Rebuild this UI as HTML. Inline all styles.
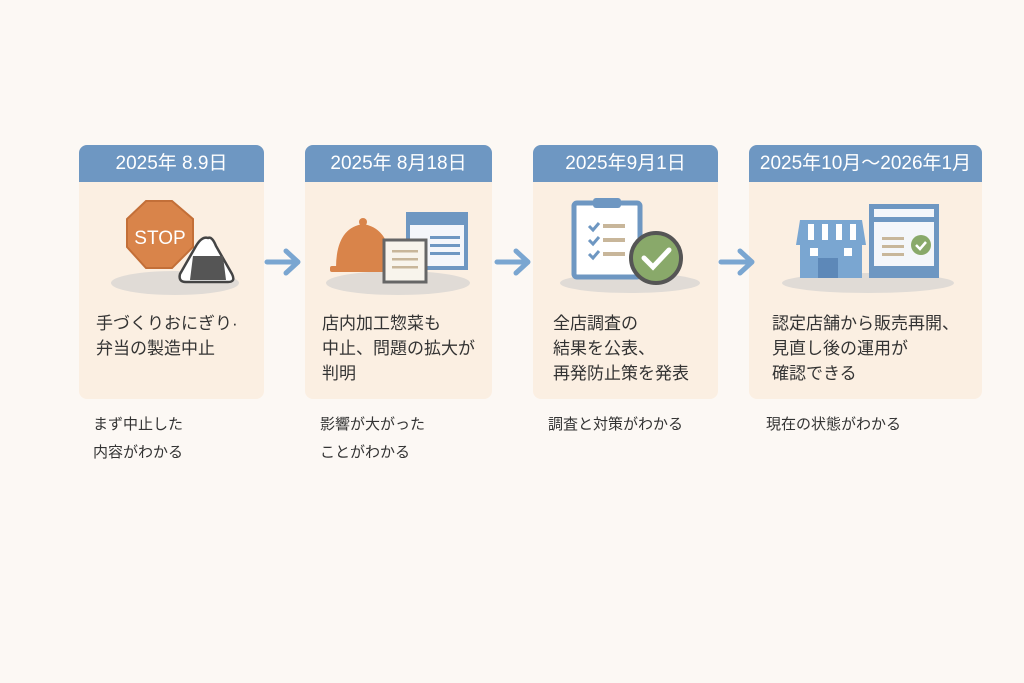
<!DOCTYPE html>
<html><head><meta charset="utf-8"><style>
body{margin:0;width:1024px;height:683px;background:#fcf8f4;font-family:"Liberation Sans","Noto Sans CJK JP",sans-serif;position:relative;overflow:hidden}
.card{position:absolute;top:145px;height:254px;background:#fbefe2;border-radius:8px;overflow:hidden}
.hd{height:37px;background:#6e97c2;color:#fff;font-size:19px;text-align:center;line-height:38px}
.body{position:absolute;top:166px;left:18px;font-size:17px;line-height:25px;color:#333}
.cap{position:absolute;top:411px;font-size:15px;line-height:28px;color:#333}
svg{position:absolute}
</style></head><body>
<div class="card" style="left:79px;width:185px"><div class="hd">2025年 8.9日</div><div class="body" style="left:17px">手づくりおにぎり·<br>弁当の製造中止</div></div>
<div class="card" style="left:305px;width:187px"><div class="hd">2025年 8月18日</div><div class="body" style="left:17px">店内加工惣菜も<br>中止、問題の拡大が<br>判明</div></div>
<div class="card" style="left:533px;width:185px"><div class="hd">2025年9月1日</div><div class="body" style="left:20px">全店調査の<br>結果を公表、<br>再発防止策を発表</div></div>
<div class="card" style="left:749px;width:233px"><div class="hd">2025年10月～2026年1月</div><div class="body" style="left:23px">認定店舗から販売再開、<br>見直し後の運用が<br>確認できる</div></div>
<div class="cap" style="left:93px">まず中止した<br>内容がわかる</div>
<div class="cap" style="left:320px">影響が大がった<br>ことがわかる</div>
<div class="cap" style="left:548px">調査と対策がわかる</div>
<div class="cap" style="left:766px">現在の状態がわかる</div>
<svg width="1024" height="683" style="left:0;top:0">
<g stroke="#7aa6d1" stroke-width="5" fill="none" stroke-linecap="round" stroke-linejoin="round">
<path d="M267 262H296M286 251L298 262L286 273"/>
<path d="M497 262H526M516 251L528 262L516 273"/>
<path d="M721 262H750M740 251L752 262L740 273"/>
</g>
<ellipse cx="175" cy="283" rx="64" ry="12" fill="#e0dbd6"/>
<polygon points="146,201 172,201 193,219 193,247 172,268 146,268 127,247 127,219" fill="#d9844a" stroke="#c36f38" stroke-width="2"/>
<text x="160" y="244" font-size="19" fill="#fff" text-anchor="middle" font-family="Liberation Sans">STOP</text>
<path d="M208 238 Q202 236 196 246 L180 274 Q178 282 186 282 L228 282 Q236 282 232 274 L216 246 Q212 236 208 238Z" fill="#fff" stroke="#444" stroke-width="2.5"/>
<path d="M193 256 L223 256 L226 280 L190 280Z" fill="#555"/>
<ellipse cx="398" cy="283" rx="72" ry="12" fill="#e0dbd6"/>
<rect x="406" y="212" width="62" height="58" fill="#6e97c2"/>
<rect x="410" y="225" width="54" height="41" fill="#f4f6fa"/>
<g fill="#6e97c2"><rect x="430" y="236" width="30" height="3"/><rect x="430" y="244" width="30" height="3"/><rect x="430" y="252" width="30" height="3"/></g>
<path d="M336 268 Q336 228 363 224 Q390 228 392 268Z" fill="#d9844a"/>
<circle cx="363" cy="222" r="4" fill="#d9844a"/>
<rect x="330" y="266" width="62" height="6" rx="2" fill="#d9844a"/>
<rect x="384" y="240" width="42" height="42" fill="#f8f4ec" stroke="#666" stroke-width="3"/>
<g fill="#c8b69a"><rect x="392" y="250" width="26" height="2.5"/><rect x="392" y="258" width="26" height="2.5"/><rect x="392" y="266" width="26" height="2.5"/></g>
<ellipse cx="630" cy="283" rx="70" ry="10" fill="#e0dbd6"/>
<rect x="574" y="203" width="66" height="74" rx="3" fill="#fff" stroke="#6e97c2" stroke-width="5"/>
<rect x="593" y="198" width="28" height="10" rx="3" fill="#6e97c2"/>
<g stroke="#6e97c2" stroke-width="3" fill="none"><path d="M589 226l4 4 6-7M589 240l4 4 6-7M589 254l4 4 6-7"/></g>
<g fill="#c8b69a"><rect x="603" y="224" width="22" height="4"/><rect x="603" y="238" width="22" height="4"/><rect x="603" y="252" width="22" height="4"/></g>
<circle cx="656" cy="258" r="25" fill="#89a96a" stroke="#555" stroke-width="4"/>
<path d="M644 258l9 9 16-17" stroke="#fff" stroke-width="5" fill="none" stroke-linecap="round"/>
<ellipse cx="868" cy="283" rx="86" ry="10" fill="#e0dbd6"/>
<rect x="800" y="242" width="62" height="36" fill="#7aa6d1"/>
<rect x="818" y="258" width="20" height="20" fill="#5d88b8"/>
<rect x="810" y="248" width="8" height="8" fill="#fff"/><rect x="844" y="248" width="8" height="8" fill="#fff"/>
<path d="M800 220H862L866 245H796Z" fill="#7aa6d1"/>
<g fill="#fff"><rect x="808" y="224" width="6" height="16"/><rect x="822" y="224" width="6" height="16"/><rect x="836" y="224" width="6" height="16"/><rect x="850" y="224" width="6" height="16"/></g>
<rect x="869" y="204" width="70" height="74" fill="#6e97c2"/>
<rect x="874" y="222" width="60" height="44" fill="#f4f6fa"/>
<rect x="874" y="209" width="60" height="8" fill="#f4f6fa"/>
<g fill="#c8b69a"><rect x="882" y="237" width="22" height="3"/><rect x="882" y="245" width="22" height="3"/><rect x="882" y="253" width="22" height="3"/></g>
<circle cx="921" cy="245" r="10" fill="#89a96a"/>
<path d="M916 245l4 4 6-7" stroke="#fff" stroke-width="2.5" fill="none"/>
</svg>
</body></html>
